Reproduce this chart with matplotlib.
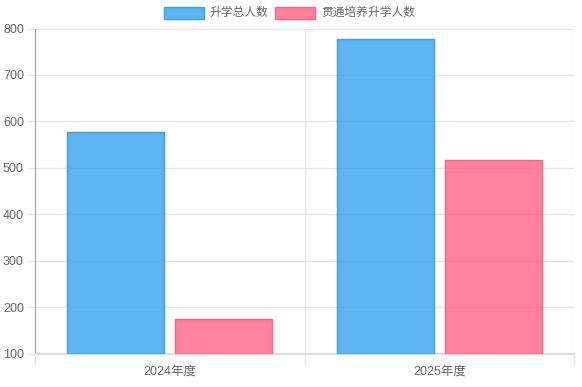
import matplotlib
matplotlib.use("Agg")
import matplotlib.pyplot as plt
from matplotlib.patches import Rectangle
import numpy as np

plt.rcParams['font.family'] = ['Liberation Sans', 'Noto Sans CJK SC', 'DejaVu Sans']

categories = ["2024年度", "2025年度"]
series_names = ["升学总人数", "贯通培养升学人数"]
total_students = [578, 777]
through_students = [174, 517]

blue_fill = (54 / 255, 162 / 255, 235 / 255, 0.8)
blue_edge = (54 / 255, 162 / 255, 235 / 255, 1.0)
pink_fill = (255 / 255, 99 / 255, 132 / 255, 0.8)
pink_edge = (255 / 255, 99 / 255, 132 / 255, 1.0)
grid_c = "#e6e6e6"
text_c = "#666666"

W, H = 582, 387
fig = plt.figure(figsize=(W / 100, H / 100), dpi=100)
ax = fig.add_axes([35 / W, (H - 353.5) / H, (574 - 35) / W, (353.5 - 28.5) / H])

x = np.arange(len(categories))
bw = 0.36
ax.bar(x - 0.2, np.array(total_students) - 100, bw, bottom=100,
       color=blue_fill, edgecolor=blue_edge, linewidth=1, zorder=3)
ax.bar(x + 0.2, np.array(through_students) - 100, bw, bottom=100,
       color=pink_fill, edgecolor=pink_edge, linewidth=1, zorder=3)

ax.set_xlim(-0.5, len(categories) - 0.5)
ax.set_ylim(100, 800)
ax.set_yticks(np.arange(100, 801, 100))
ax.set_xticks(x)
ax.set_xticklabels(categories)
ax.set_xticks(np.arange(-0.5, len(categories), 1.0), minor=True)

ax.grid(axis="y", color=grid_c, linewidth=1, zorder=0)
ax.grid(axis="x", which="minor", color=grid_c, linewidth=1, zorder=0)

ax.tick_params(axis="y", length=6, width=1, color=grid_c, pad=2,
               labelsize=9, labelcolor=text_c)
ax.tick_params(axis="x", which="major", length=0, pad=9,
               labelsize=9, labelcolor=text_c)
ax.tick_params(axis="x", which="minor", length=8, width=1, color=grid_c)

for s in ["top", "right"]:
    ax.spines[s].set_visible(False)
ax.spines["left"].set_color("#a0a0a0")
ax.spines["bottom"].set_color("#dcdcdc")
ax.spines["bottom"].set_linewidth(1.5)

# legend
legend_items = [(164, series_names[0], blue_fill, blue_edge),
                (275, series_names[1], pink_fill, pink_edge)]
for lx, name, fc, ec in legend_items:
    fig.patches.append(Rectangle((lx / W, (H - 19) / H), 40 / W, 12 / H,
                                 transform=fig.transFigure, facecolor=fc,
                                 edgecolor=ec, linewidth=1))
    fig.text((lx + 46) / W, (H - 13) / H, name, fontsize=8.5, color=text_c,
             va="center", ha="left")

fig.savefig("out.png", dpi=100)
